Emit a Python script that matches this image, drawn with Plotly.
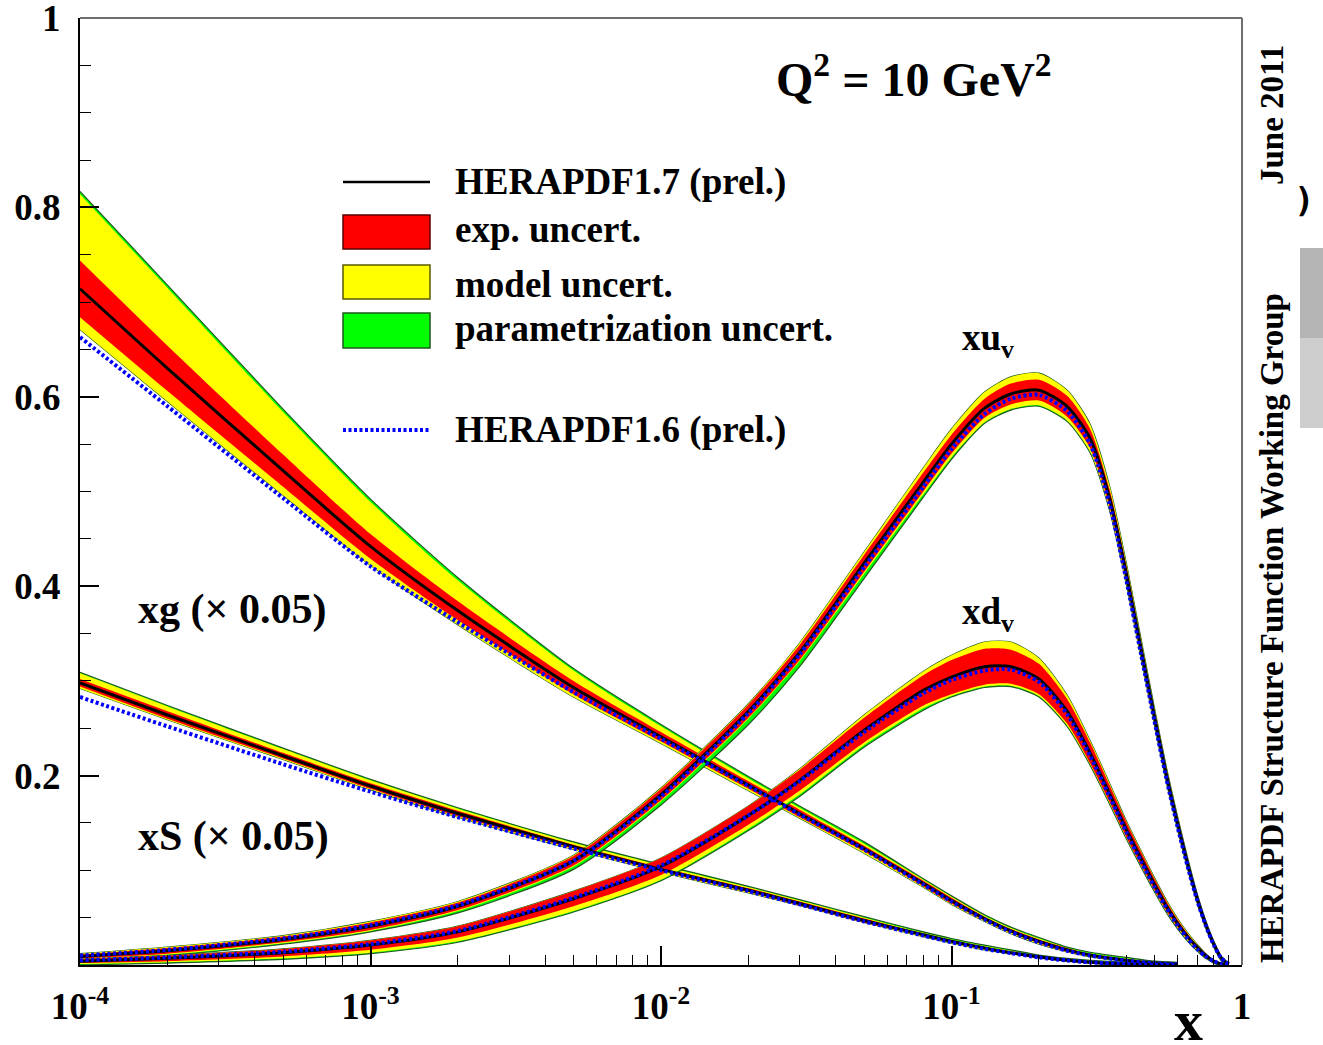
import plotly.graph_objects as go

# ---------------------------------------------------------------- data
# x grid for the sea-like distributions (gluon, sea)
x_low = [1e-4, 2e-4, 5e-4, 1e-3, 2e-3, 5e-3, 1e-2, 2e-2, 3e-2, 5e-2,
         0.08, 0.1, 0.13, 0.16, 0.2, 0.25, 0.3, 0.4, 0.5, 0.6]

# xg (x 0.05): central value, exp. half-width, model band edges, param. extra
xg_central = [0.714, 0.630, 0.522, 0.442, 0.374, 0.293, 0.241, 0.190, 0.160, 0.123,
              0.086, 0.068, 0.049, 0.036, 0.025, 0.016, 0.0105, 0.005, 0.002, 0.0008]
xg_exp = [0.030, 0.024, 0.017, 0.013, 0.010, 0.007, 0.005, 0.004, 0.004, 0.003,
          0.003, 0.003, 0.002, 0.002, 0.002, 0.002, 0.001, 0.001, 0.001, 0.001]
xg_model_up = [0.100, 0.085, 0.062, 0.047, 0.032, 0.018, 0.011, 0.007, 0.006, 0.005,
               0.004, 0.004, 0.003, 0.003, 0.003, 0.002, 0.002, 0.002, 0.001, 0.001]
xg_model_dn = [0.043, 0.035, 0.026, 0.020, 0.015, 0.010, 0.007, 0.006, 0.005, 0.005,
               0.004, 0.004, 0.003, 0.003, 0.003, 0.002, 0.002, 0.001, 0.001, 0.001]
xg_param_up = [0.003, 0.003, 0.003, 0.003, 0.003, 0.002, 0.002, 0.002, 0.002, 0.002,
               0.001, 0.001, 0.001, 0.001, 0.001, 0.001, 0.001, 0.001, 0.001, 0.001]
xg_v16 = [0.663, 0.590, 0.493, 0.421, 0.362, 0.288, 0.239, 0.189, 0.159, 0.122,
          0.085, 0.067, 0.048, 0.035, 0.024, 0.015, 0.010, 0.0045, 0.0018, 0.0007]

# xS (x 0.05)
xs_central = [0.298, 0.264, 0.221, 0.189, 0.160, 0.125, 0.101, 0.079, 0.065, 0.047,
              0.032, 0.025, 0.018, 0.013, 0.0085, 0.005, 0.003, 0.001, 0.0004, 0.0001]
xs_exp = [0.004, 0.004, 0.003, 0.003, 0.003, 0.002, 0.002, 0.002, 0.002, 0.002,
          0.001, 0.001, 0.001, 0.001, 0.001, 0.001, 0.001, 0.001, 0.001, 0.001]
xs_model_up = [0.010, 0.009, 0.007, 0.006, 0.005, 0.004, 0.004, 0.003, 0.003, 0.003,
               0.002, 0.002, 0.002, 0.002, 0.001, 0.001, 0.001, 0.001, 0.001, 0.001]
xs_model_dn = [0.006, 0.005, 0.004, 0.004, 0.004, 0.003, 0.003, 0.003, 0.002, 0.002,
               0.002, 0.002, 0.002, 0.001, 0.001, 0.001, 0.001, 0.001, 0.001, 0.001]
xs_param_up = [0.001, 0.001, 0.001, 0.001, 0.001, 0.001, 0.001, 0.001, 0.001, 0.001,
               0.001, 0.001, 0.001, 0.001, 0.001, 0.001, 0.001, 0.001, 0.001, 0.001]
xs_v16 = [0.283, 0.252, 0.212, 0.183, 0.156, 0.123, 0.100, 0.078, 0.064, 0.046,
          0.031, 0.024, 0.017, 0.0125, 0.008, 0.0047, 0.0028, 0.0009, 0.0003, 0.0001]

# x grid for the valence distributions
x_val = [1e-4, 2e-4, 5e-4, 1e-3, 2e-3, 5e-3, 1e-2, 2e-2, 3e-2, 5e-2,
         0.08, 0.1, 0.13, 0.16, 0.2, 0.25, 0.3, 0.35, 0.4, 0.45,
         0.5, 0.55, 0.6, 0.65, 0.7, 0.75, 0.8, 0.85, 0.9]

# xu_v
xu_central = [0.009, 0.015, 0.027, 0.041, 0.062, 0.110, 0.180, 0.268, 0.330, 0.424,
              0.510, 0.550, 0.588, 0.603, 0.607, 0.590, 0.556, 0.493, 0.413, 0.333,
              0.262, 0.200, 0.150, 0.107, 0.071, 0.043, 0.022, 0.007, 0.001]
xu_exp = [0.002, 0.003, 0.003, 0.004, 0.004, 0.005, 0.006, 0.007, 0.008, 0.009,
          0.010, 0.010, 0.010, 0.011, 0.011, 0.011, 0.010, 0.009, 0.008, 0.007,
          0.006, 0.006, 0.005, 0.004, 0.003, 0.003, 0.002, 0.001, 0.001]
xu_model_up = [0.003, 0.004, 0.004, 0.005, 0.005, 0.006, 0.007, 0.008, 0.010, 0.012,
               0.015, 0.016, 0.017, 0.018, 0.018, 0.017, 0.015, 0.013, 0.011, 0.010,
               0.009, 0.008, 0.007, 0.006, 0.005, 0.004, 0.003, 0.002, 0.001]
xu_model_dn = [0.003, 0.004, 0.004, 0.005, 0.005, 0.006, 0.007, 0.008, 0.009, 0.011,
               0.013, 0.014, 0.015, 0.016, 0.016, 0.015, 0.014, 0.012, 0.010, 0.009,
               0.008, 0.007, 0.006, 0.005, 0.004, 0.003, 0.002, 0.002, 0.001]
xu_param_dn = [0.001, 0.001, 0.001, 0.001, 0.002, 0.003, 0.004, 0.006, 0.006, 0.005,
               0.003, 0.002, 0.001, 0.001, 0.001, 0.001, 0.001, 0.001, 0.001, 0.001,
               0.001, 0.001, 0.001, 0.001, 0.001, 0.001, 0.001, 0.001, 0.001]
xu_v16 = [0.010, 0.016, 0.028, 0.042, 0.063, 0.110, 0.178, 0.266, 0.328, 0.420,
          0.505, 0.545, 0.582, 0.598, 0.602, 0.585, 0.550, 0.487, 0.406, 0.327,
          0.257, 0.196, 0.146, 0.104, 0.069, 0.042, 0.021, 0.007, 0.001]

# xd_v
xd_central = [0.004, 0.007, 0.013, 0.021, 0.035, 0.070, 0.104, 0.158, 0.195, 0.248,
              0.290, 0.304, 0.315, 0.315, 0.302, 0.268, 0.224, 0.181, 0.143, 0.112,
              0.085, 0.062, 0.044, 0.030, 0.019, 0.010, 0.004, 0.001, 0.0]
xd_exp = [0.002, 0.003, 0.004, 0.005, 0.006, 0.008, 0.009, 0.010, 0.011, 0.013,
          0.016, 0.018, 0.019, 0.018, 0.016, 0.013, 0.011, 0.009, 0.008, 0.007,
          0.006, 0.005, 0.004, 0.003, 0.002, 0.002, 0.001, 0.001, 0.0]
xd_model_up = [0.002, 0.003, 0.004, 0.005, 0.006, 0.008, 0.009, 0.010, 0.012, 0.016,
               0.020, 0.023, 0.026, 0.026, 0.022, 0.017, 0.013, 0.011, 0.009, 0.008,
               0.007, 0.006, 0.005, 0.004, 0.003, 0.002, 0.001, 0.001, 0.0]
xd_model_dn = [0.003, 0.004, 0.006, 0.008, 0.010, 0.013, 0.014, 0.014, 0.015, 0.016,
               0.019, 0.020, 0.021, 0.020, 0.018, 0.015, 0.012, 0.010, 0.009, 0.008,
               0.007, 0.006, 0.005, 0.004, 0.003, 0.002, 0.001, 0.001, 0.0]
xd_param_dn = [0.001, 0.001, 0.001, 0.001, 0.001, 0.001, 0.001, 0.002, 0.002, 0.002,
               0.002, 0.001, 0.001, 0.001, 0.001, 0.001, 0.001, 0.001, 0.001, 0.001,
               0.001, 0.001, 0.001, 0.001, 0.001, 0.001, 0.001, 0.001, 0.0]
xd_v16 = [0.005, 0.008, 0.014, 0.022, 0.036, 0.071, 0.105, 0.158, 0.194, 0.246,
          0.287, 0.301, 0.311, 0.312, 0.299, 0.265, 0.221, 0.178, 0.140, 0.109,
          0.082, 0.060, 0.042, 0.028, 0.017, 0.009, 0.004, 0.001, 0.0]

x_tick_vals = [1e-4, 1e-3, 1e-2, 1e-1, 1]
x_tick_text = ["10<sup>-4</sup>", "10<sup>-3</sup>", "10<sup>-2</sup>", "10<sup>-1</sup>", "1"]
y_tick_vals = [0.2, 0.4, 0.6, 0.8, 1.0]
y_tick_text = ["0.2", "0.4", "0.6", "0.8", "1"]

# ---------------------------------------------------------------- style
W, H = 1323, 1045
ML, MR, MT, MB = 80, 81, 18, 80
PW, PH = W - ML - MR, H - MT - MB
SERIF = "Liberation Serif"
RED, YELLOW, GREEN = "#ff0000", "#ffff00", "#00ff00"
EDGE = "#1e5a1e"
SMOOTH = 0.7


def px(xp):
    return (xp - ML) / PW


def py(yp):
    return (H - MB - yp) / PH


fig = go.Figure()


def add_band(xs, lo, hi, color, edge=None):
    lw = 1.2 if edge else 0
    common = dict(x=xs, mode="lines", hoverinfo="skip", showlegend=False)
    fig.add_trace(go.Scatter(y=lo, line=dict(color=edge or color, width=lw,
                                             shape="spline", smoothing=SMOOTH), **common))
    fig.add_trace(go.Scatter(y=hi, fill="tonexty", fillcolor=color,
                             line=dict(color=edge or color, width=lw,
                                       shape="spline", smoothing=SMOOTH), **common))


def add_pdf(xs, c, exp, m_up, m_dn, p_up, p_dn):
    y_lo = [a - b for a, b in zip(c, m_dn)]
    y_hi = [a + b for a, b in zip(c, m_up)]
    g_lo = [a - b for a, b in zip(y_lo, p_dn)]
    g_hi = [a + b for a, b in zip(y_hi, p_up)]
    add_band(xs, g_lo, g_hi, GREEN, EDGE)
    add_band(xs, y_lo, y_hi, YELLOW)
    add_band(xs, [a - b for a, b in zip(c, exp)], [a + b for a, b in zip(c, exp)], RED)


zeros_low = [0.0] * len(x_low)
zeros_val = [0.0] * len(x_val)

add_pdf(x_low, xg_central, xg_exp, xg_model_up, xg_model_dn, xg_param_up, zeros_low)
add_pdf(x_low, xs_central, xs_exp, xs_model_up, xs_model_dn, xs_param_up, zeros_low)
add_pdf(x_val, xu_central, xu_exp, xu_model_up, xu_model_dn, zeros_val, xu_param_dn)
add_pdf(x_val, xd_central, xd_exp, xd_model_up, xd_model_dn, zeros_val, xd_param_dn)

DOT = "3px,2.5px"
for xs, c, v16 in [(x_low, xg_central, xg_v16), (x_low, xs_central, xs_v16),
                   (x_val, xu_central, xu_v16), (x_val, xd_central, xd_v16)]:
    fig.add_trace(go.Scatter(x=xs, y=c, mode="lines", hoverinfo="skip", showlegend=False,
                             line=dict(color="black", width=3, shape="spline", smoothing=SMOOTH)))
    fig.add_trace(go.Scatter(x=xs, y=v16, mode="lines", hoverinfo="skip", showlegend=False,
                             line=dict(color="#0000ff", width=4, dash=DOT,
                                       shape="spline", smoothing=SMOOTH)))

# ---------------------------------------------------------------- axes
tickfont = dict(family=SERIF, size=37, color="black", weight="bold")
minor_x = [m * 10.0 ** e for e in range(-4, 0) for m in range(2, 10)]

fig.update_xaxes(type="log", range=[-4, 0], tickmode="array",
                 tickvals=x_tick_vals, ticktext=x_tick_text, automargin=False,
                 ticks="inside", ticklen=19, tickwidth=1.5, tickcolor="black",
                 showline=True, linecolor="black", linewidth=2,
                 showgrid=False, zeroline=False, tickfont=tickfont,
                 ticklabelstandoff=8, ticklabeloverflow="allow",
                 minor=dict(tickmode="array", tickvals=minor_x, ticks="inside",
                            ticklen=10, tickwidth=1.3, tickcolor="black", showgrid=False))
fig.update_yaxes(range=[0, 1], tickmode="array",
                 tickvals=y_tick_vals, ticktext=y_tick_text, automargin=False,
                 ticks="inside", ticklen=19, tickwidth=1.5, tickcolor="black",
                 showline=True, linecolor="black", linewidth=2,
                 showgrid=False, zeroline=False, tickfont=tickfont,
                 ticklabelstandoff=10, ticklabeloverflow="allow",
                 minor=dict(dtick=0.05, tick0=0, ticks="inside", ticklen=11,
                            tickwidth=1.3, tickcolor="black", showgrid=False))

shapes = [
    # top and right frame
    dict(type="line", xref="paper", yref="paper", x0=0, x1=1, y0=1, y1=1,
         line=dict(color="#6e6e6e", width=2)),
    dict(type="line", xref="paper", yref="paper", x0=1, x1=1, y0=0, y1=1,
         line=dict(color="#6e6e6e", width=2)),
    # legend keys
    dict(type="line", xref="paper", yref="paper", x0=px(343), x1=px(430),
         y0=py(182), y1=py(182), line=dict(color="black", width=2.5)),
    dict(type="rect", xref="paper", yref="paper", x0=px(343), x1=px(430),
         y0=py(249), y1=py(215), fillcolor=RED, line=dict(color="#5a0000", width=1.5)),
    dict(type="rect", xref="paper", yref="paper", x0=px(343), x1=px(430),
         y0=py(299), y1=py(265), fillcolor=YELLOW, line=dict(color="#5a5a00", width=1.5)),
    dict(type="rect", xref="paper", yref="paper", x0=px(343), x1=px(430),
         y0=py(348), y1=py(313), fillcolor=GREEN, line=dict(color="#1e5a1e", width=1.5)),
    dict(type="line", xref="paper", yref="paper", x0=px(343), x1=px(430),
         y0=py(430), y1=py(430), line=dict(color="#0000ff", width=4, dash=DOT)),
    # grey blocks at the right page edge
    dict(type="rect", xref="paper", yref="paper", x0=px(1300), x1=px(1324),
         y0=py(338), y1=py(248), fillcolor="#b4b4b4", line=dict(width=0), layer="below"),
    dict(type="rect", xref="paper", yref="paper", x0=px(1300), x1=px(1324),
         y0=py(428), y1=py(338), fillcolor="#cdcdcd", line=dict(width=0), layer="below"),
]


def label(text, xp, yp, size=34, xanchor="left", yanchor="middle", angle=0,
          family=SERIF, weight="bold"):
    return dict(text=text, x=px(xp), y=py(yp), xref="paper", yref="paper",
                xanchor=xanchor, yanchor=yanchor, showarrow=False, textangle=angle,
                font=dict(family=family, size=size, color="black", weight=weight))


annotations = [
    label("HERAPDF1.7 (prel.)", 453, 182, size=37),
    label("exp. uncert.", 453, 230, size=37),
    label("model uncert.", 453, 284, size=37),
    label("parametrization uncert.", 453, 329, size=37),
    label("HERAPDF1.6 (prel.)", 453, 430, size=37),
    label("Q<sup>2</sup> = 10 GeV<sup>2</sup>", 774, 76, size=48),
    label("xg (\u00d7 0.05)", 136, 609, size=42),
    label("xS (\u00d7 0.05)", 136, 836, size=42),
    label("xu<sub>v</sub>", 960, 340, size=37),
    label("xd<sub>v</sub>", 960, 614, size=37),
    label("x", 1188, 1020, size=58, xanchor="center"),
    label("HERAPDF Structure Function Working Group", 1272, 628, size=33,
          xanchor="center", angle=-90),
    label("June 2011", 1272, 115, size=33, xanchor="center", angle=-90),
    label(")", 1304, 200, size=34, xanchor="center", family="DejaVu Sans Mono",
          weight="bold"),
]

fig.update_layout(width=W, height=H, autosize=False,
                  margin=dict(l=ML, r=MR, t=MT, b=MB, pad=0, autoexpand=False),
                  paper_bgcolor="white", plot_bgcolor="white",
                  showlegend=False, shapes=shapes, annotations=annotations)

fig.write_html("out.html")
